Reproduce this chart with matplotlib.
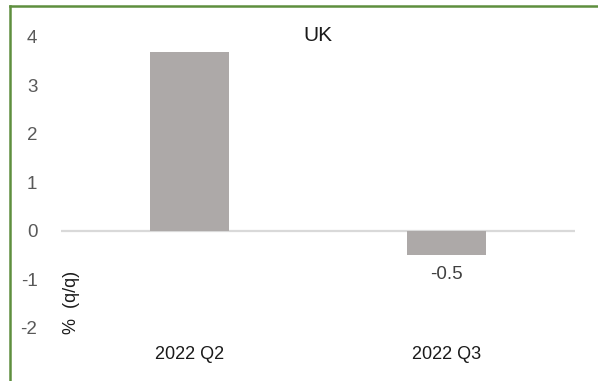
import matplotlib
import matplotlib.pyplot as plt
from matplotlib.lines import Line2D

matplotlib.use("Agg")

categories = ["2022 Q2", "2022 Q3"]
growth = [3.68, -0.5]
y_ticks = [-2, -1, 0, 1, 2, 3, 4]

COLORS = {
    "bar": "#ADA9A8",
    "zero": "#D9D9D9",
    "tick": "#595959",
    "ink": "#1A1A1A",
    "frame": "#5E8F3E",
}

plt.rcParams["font.family"] = ["Liberation Sans", "DejaVu Sans"]

W, H = 598, 381
fig = plt.figure(figsize=(W / 100, H / 100), dpi=100)
fig.patch.set_facecolor("white")

ax = fig.add_axes([61 / W, 1 - 327.7 / H, (575 - 61) / W, (327.7 - 36.7) / H])
x = list(range(len(categories)))
ax.bar(x, growth, width=0.31, color=COLORS["bar"], zorder=2)
ax.axhline(0, color=COLORS["zero"], lw=1.6, zorder=1)

ax.set_xlim(-0.5, len(categories) - 0.5)
ax.set_ylim(-2, 4)
ax.set_yticks(y_ticks)
ax.set_yticklabels([str(t) for t in y_ticks], color=COLORS["tick"], fontsize=13.5)
ax.tick_params(axis="y", length=0, pad=17)
ax.set_xticks([])
for spine in ax.spines.values():
    spine.set_visible(False)

# only the negative bar carries a value label
ax.text(1, growth[1] - 0.4, f"{growth[1]:.1f}", ha="center", va="center",
        fontsize=13.5, color="#404040")

for i, cat in enumerate(categories):
    ax.text(i, -2.55, cat, ha="center", va="center", fontsize=13, color=COLORS["ink"],
            clip_on=False)

ax.text(0.5, 4.03, "UK", ha="center", va="center", fontsize=15, color=COLORS["ink"])

fig.text(72 / W, 1 - 334 / H, "%  (q/q)", rotation=90, ha="center", va="bottom",
         fontsize=13, color=COLORS["ink"])

# green frame along the left and top edges
fig.add_artist(Line2D([9.5 / W, 9.5 / W], [0, 1 - 5.5 / H], transform=fig.transFigure,
                      color=COLORS["frame"], lw=1.8))
fig.add_artist(Line2D([9.5 / W, 1], [1 - 5.5 / H, 1 - 5.5 / H], transform=fig.transFigure,
                      color=COLORS["frame"], lw=1.8))

fig.savefig("out.png", dpi=100)
